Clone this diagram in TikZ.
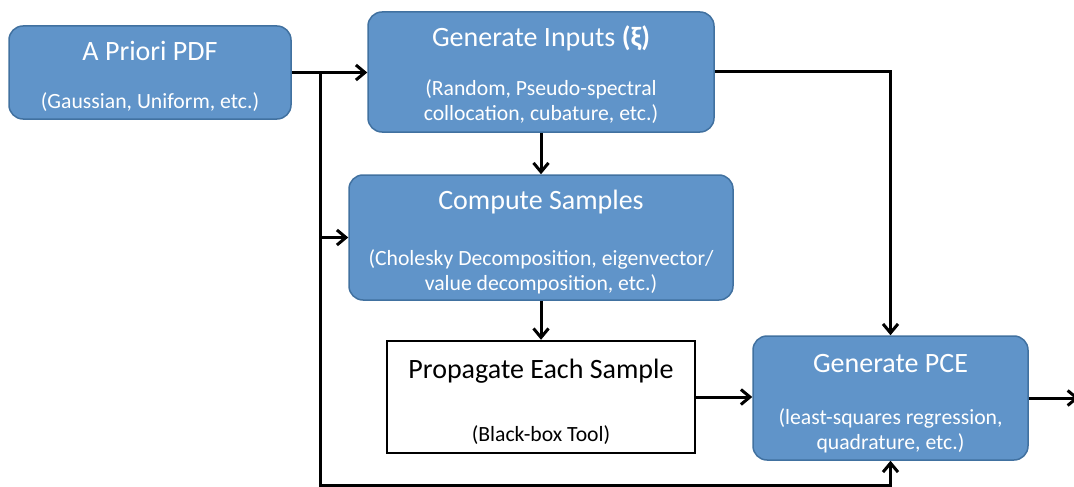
\documentclass[tikz,border=0pt]{standalone}
\usepackage{fontspec}
\setmainfont{Carlito}
\usetikzlibrary{arrows.meta}
\definecolor{boxblue}{RGB}{96,148,201}
\definecolor{boxedge}{RGB}{65,113,160}
\begin{document}
\begin{tikzpicture}[x=1pt,y=-1pt,
 bluebox/.style={draw=boxedge,line width=1.5pt,fill=boxblue,rounded corners=14pt,inner sep=0pt},
 whitebox/.style={draw=black,line width=2.4pt,fill=white,inner sep=0pt},
 ttl/.style={text=white,font=\fontsize{28}{32}\selectfont,inner sep=0pt,anchor=base},
 sub/.style={text=white,font=\fontsize{21.7}{24.5}\selectfont,align=center,inner sep=0pt,anchor=base},
 conn/.style={line width=3pt,-{Straight Barb[length=9pt,width=15pt,line width=3pt]}},
 plain/.style={line width=3pt}]
\useasboundingbox (0,0) rectangle (1074,487);
\node[bluebox,minimum width=282pt,minimum height=93pt] (apriori) at (150,72.5) {};
\node[bluebox,minimum width=346pt,minimum height=120pt] (geninputs) at (541,72) {};
\node[bluebox,minimum width=384pt,minimum height=125pt] (compute) at (541,237.5) {};
\node[whitebox,minimum width=308pt,minimum height=112pt] (propagate) at (541,397) {};
\node[bluebox,minimum width=275pt,minimum height=124pt] (pce) at (890.5,398) {};

\node[ttl] (t1) at (150,60) {A Priori PDF};
\node[sub] (s1) at (150,108) {(Gaussian, Uniform, etc.)};
\node[ttl] (t2) at (541,47) {Generate Inputs \textbf{(ξ)}};
\node[sub] (s2) at (541,120) {(Random, Pseudo-spectral\\collocation, cubature, etc.)};
\node[ttl] (t3) at (541,209) {Compute Samples};
\node[sub] (s3) at (541,290) {(Cholesky Decomposition, eigenvector/\\value decomposition, etc.)};
\node[ttl,text=black] (t4) at (541,378) {Propagate Each Sample};
\node[sub,text=black] (s4) at (541,441) {(Black-box Tool)};
\node[ttl] (t5) at (890.5,372) {Generate PCE};
\node[sub] (s5) at (890.5,449) {(least-squares regression,\\quadrature, etc.)};

\coordinate (j1) at (320,72.5);
\coordinate (bot) at (320,485);
\coordinate (out) at (1079,398);

\draw[conn] (apriori.east) -- (apriori.east -| geninputs.west);
\draw[conn] (j1) -- (bot) -| (pce.south);
\draw[conn] (compute.west -| j1) -- (compute.west);
\draw[conn] (geninputs.south) -- (compute.north);
\draw[conn] (compute.south) -- (propagate.north);
\draw[conn] (geninputs.east) -| (pce.north);
\draw[conn] (propagate.east) -- (propagate.east -| pce.west);
\draw[conn] (pce.east) -- (out);
\end{tikzpicture}
\end{document}
